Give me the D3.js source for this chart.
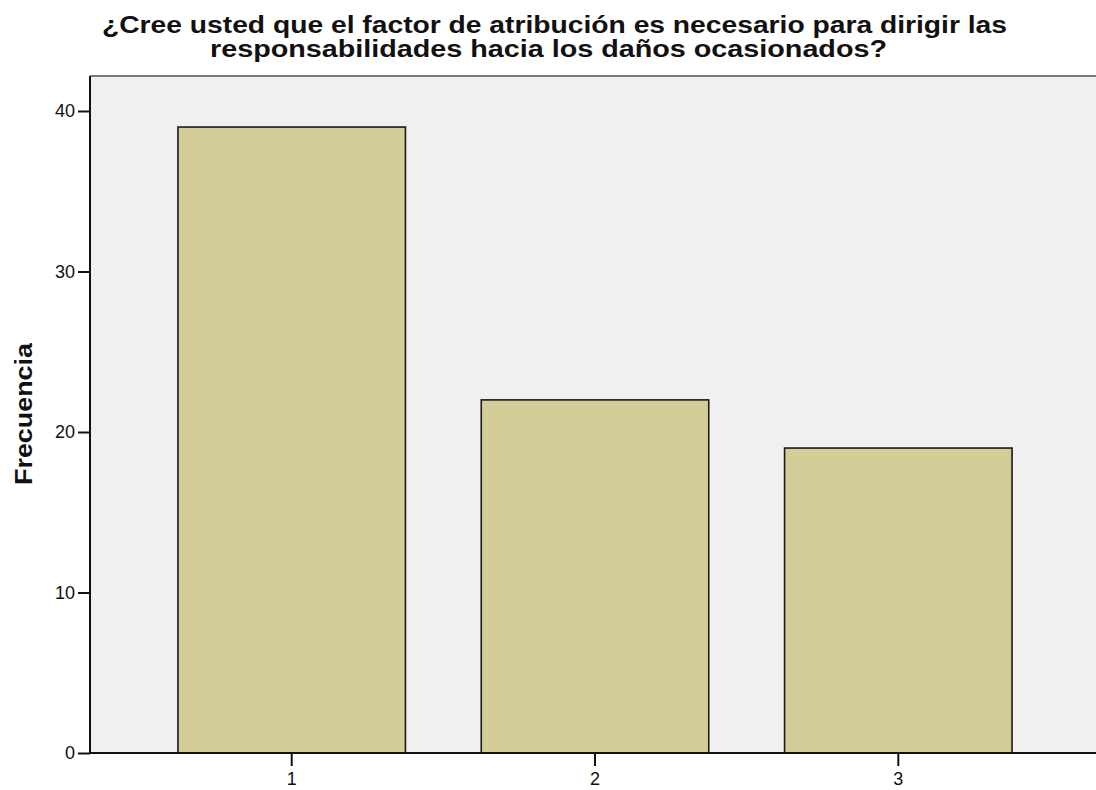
<!DOCTYPE html>
<html>
<head>
<meta charset="utf-8">
<script src="https://cdn.jsdelivr.net/npm/d3@7"></script>
<style>
  body { margin: 0; background: #fff; }
  text { font-family: "Liberation Sans", Arial, sans-serif; }
</style>
</head>
<body>
<svg id="chart" width="1096" height="790"></svg>
<script>
const categories = ['1', '2', '3'];
const frequencies = [39, 22, 19];
const yTicks = [0, 10, 20, 30, 40];
const titleLines = [
    '¿Cree usted que el factor de atribución es necesario para dirigir las',
    'responsabilidades hacia los daños ocasionados?'
];
const yLabel = 'Frecuencia';

const plot = { left: 90, right: 1100, top: 76, bottom: 753 };

const svg = d3.select('#chart');

const x = d3.scaleBand()
    .domain(categories)
    .range([plot.left, plot.right])
    .paddingInner(0.25)
    .paddingOuter(0.29);

const y = d3.scaleLinear()
    .domain([0, 42.18])
    .range([plot.bottom, plot.top]);

// plot background
svg.append('rect')
    .attr('x', plot.left)
    .attr('y', plot.top)
    .attr('width', plot.right - plot.left)
    .attr('height', plot.bottom - plot.top)
    .attr('fill', '#f0f0f0');

// top frame line
svg.append('line')
    .attr('x1', plot.left).attr('x2', plot.right)
    .attr('y1', plot.top).attr('y2', plot.top)
    .attr('stroke', '#7a7a7a')
    .attr('stroke-width', 2);

// bars
svg.selectAll('.bar')
    .data(frequencies)
    .enter().append('rect')
    .attr('class', 'bar')
    .attr('x', (d, i) => x(categories[i]))
    .attr('y', d => y(d))
    .attr('width', x.bandwidth())
    .attr('height', d => y(0) - y(d))
    .attr('fill', '#d3ce97')
    .attr('stroke', '#1a1a1a')
    .attr('stroke-width', 1.6);

// axes
const yAxis = svg.append('g')
    .attr('transform', `translate(${plot.left},0)`)
    .call(d3.axisLeft(y).tickValues(yTicks).tickSize(12).tickPadding(3));
const xAxis = svg.append('g')
    .attr('transform', `translate(0,${plot.bottom})`)
    .call(d3.axisBottom(x).tickSize(13).tickPadding(6));

[yAxis, xAxis].forEach(g => {
    g.select('.domain').attr('stroke', '#111').attr('stroke-width', 2);
    g.selectAll('.tick line').attr('stroke', '#111').attr('stroke-width', 2);
    g.selectAll('.tick text')
        .attr('fill', '#111')
        .style('font-family', '"Liberation Sans", Arial, sans-serif')
        .style('font-size', '18px');
});
yAxis.select('.domain').attr('d', `M0,${plot.top}V${plot.bottom}`);
xAxis.select('.domain').attr('d', `M${plot.left},0H${plot.right}`);

// y label
svg.append('text')
    .attr('transform', 'translate(32,414) rotate(-90)')
    .attr('text-anchor', 'middle')
    .style('font-size', '23px')
    .style('font-weight', 'bold')
    .attr('fill', '#111')
    .attr('textLength', 142)
    .attr('lengthAdjust', 'spacingAndGlyphs')
    .text(yLabel);

// title
const titleSpans = [
    { x: 102, w: 905, base: 33 },
    { x: 210, w: 677, base: 57 }
];
svg.selectAll('.title')
    .data(titleLines)
    .enter().append('text')
    .attr('class', 'title')
    .attr('x', (d, i) => titleSpans[i].x)
    .attr('y', (d, i) => titleSpans[i].base)
    .attr('textLength', (d, i) => titleSpans[i].w)
    .attr('lengthAdjust', 'spacingAndGlyphs')
    .style('font-size', '23px')
    .style('font-weight', 'bold')
    .attr('fill', '#111')
    .text(d => d);
</script>
</body>
</html>
